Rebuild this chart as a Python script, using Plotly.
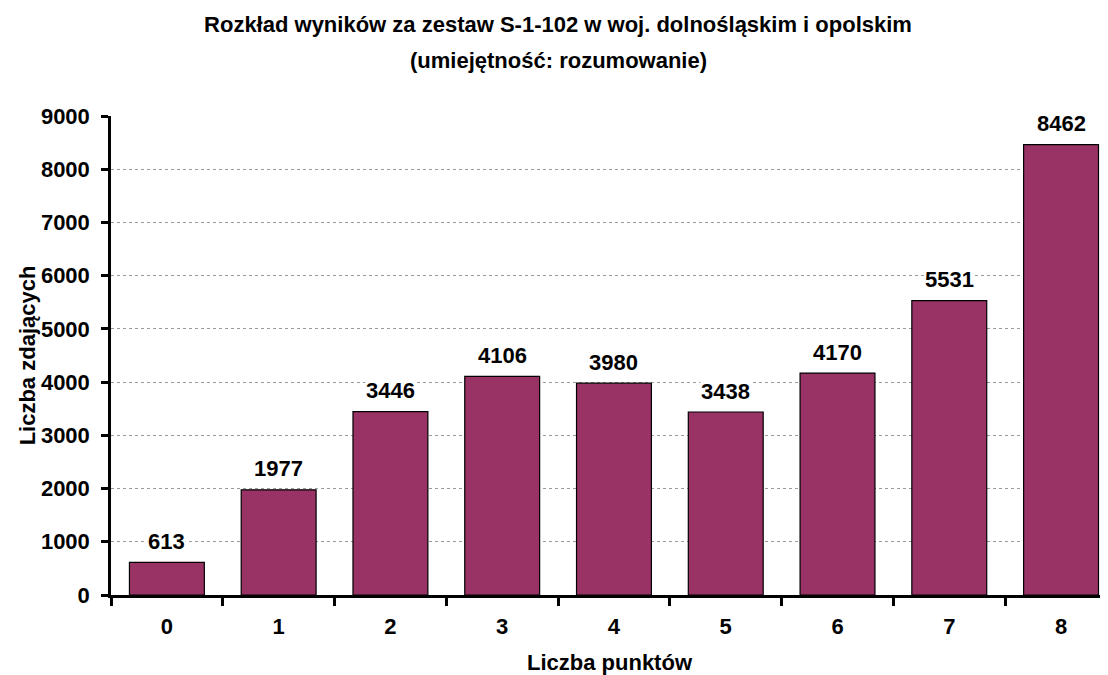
import plotly.graph_objects as go

categories = ["0", "1", "2", "3", "4", "5", "6", "7", "8"]
values = [613, 1977, 3446, 4106, 3980, 3438, 4170, 5531, 8462]
y_ticks = [0, 1000, 2000, 3000, 4000, 5000, 6000, 7000, 8000, 9000]

title_line1 = "Rozkład wyników za zestaw S-1-102 w woj. dolnośląskim i opolskim"
title_line2 = "(umiejętność: rozumowanie)"

FONT = "Liberation Sans, Arial, sans-serif"
FS = 22

W, H = 1100, 667
ML, MR, MT, MB = 103, 0, 108, 80
PW, PH = W - ML - MR, H - MT - MB

fig = go.Figure()
fig.add_trace(go.Bar(
    x=categories, y=values,
    marker=dict(color="#993366", line=dict(color="black", width=1.2)),
    width=0.67,
))

for c, v in zip(categories, values):
    fig.add_annotation(
        x=c, y=v, text=f"<b>{v}</b>", showarrow=False,
        yanchor="middle", yshift=21, bgcolor="white", borderpad=0,
        font=dict(family=FONT, size=FS, color="black"),
    )

# second title line, centred on the figure
fig.add_annotation(
    x=(W / 2 - ML) / PW, xref="paper", xanchor="center",
    y=(H - MB - 52) / PH, yref="paper", yanchor="middle",
    text=f"<b>{title_line2}</b>", showarrow=False,
    font=dict(family=FONT, size=FS, color="black"),
)

fig.update_layout(
    width=W, height=H,
    margin=dict(l=ML, r=MR, t=MT, b=MB, autoexpand=False),
    paper_bgcolor="white", plot_bgcolor="white",
    showlegend=False,
    title=dict(
        text=f"<b>{title_line1}</b>",
        x=0.5, xanchor="center", yref="container", y=1 - 16 / H, yanchor="middle",
        font=dict(family=FONT, size=FS, color="black"),
    ),
    font=dict(family=FONT, color="black"),
)

fig.update_xaxes(
    type="category",
    range=[-0.5, 8.42],
    showline=True, linecolor="black", linewidth=2.5,
    ticks="outside", tickson="boundaries", ticklen=8, tickwidth=2.5, tickcolor="black",
    tickfont=dict(family=FONT, size=FS, color="black", weight="bold"),
    ticklabelstandoff=10,
    title=dict(text="<b>Liczba punktów</b>", font=dict(family=FONT, size=FS, color="black"), standoff=21),
    showgrid=False, zeroline=False,
)
fig.update_yaxes(
    range=[0, 9000], tickvals=y_ticks,
    showline=True, linecolor="black", linewidth=2.5,
    ticks="outside", ticklen=7, tickwidth=2.5, tickcolor="black",
    tickfont=dict(family=FONT, size=FS, color="black", weight="bold"),
    ticklabelstandoff=7,
    tickformat="d",
    title=dict(text="<b>Liczba zdających</b>", font=dict(family=FONT, size=FS, color="black"), standoff=0),
    showgrid=True, gridcolor="#9a9a9a", gridwidth=1, griddash="dot",
    zeroline=False,
)

fig.write_html("out.html")
